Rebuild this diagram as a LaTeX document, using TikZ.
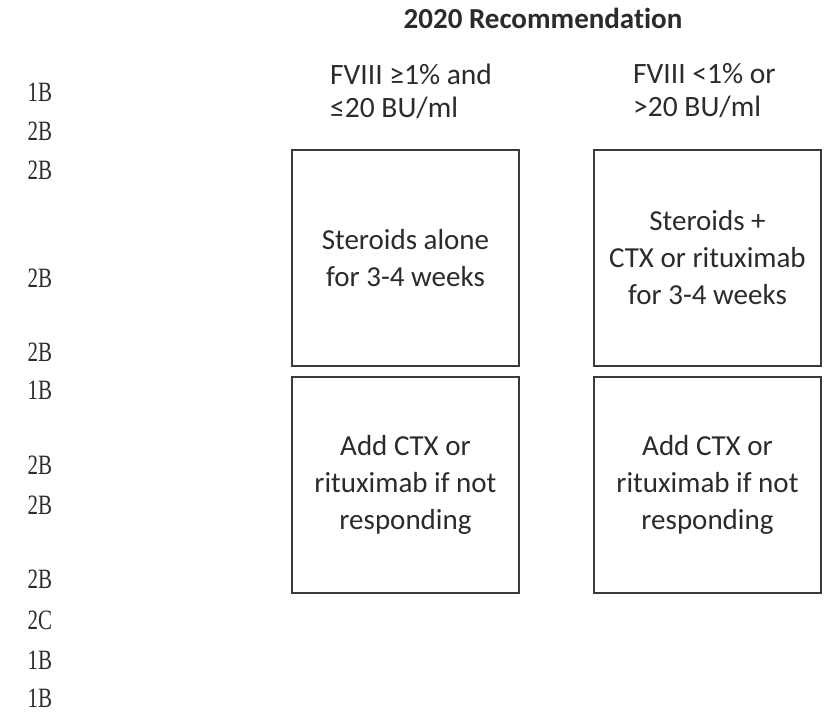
\documentclass[tikz,border=0pt]{standalone}
\usepackage{fontspec}
\setmainfont{Carlito}[Ligatures={NoCommon}]
\newfontfamily\gradefont[FakeStretch=0.75]{Liberation Serif}
\usetikzlibrary{positioning}
\definecolor{BoxGrey}{HTML}{3A3A3A}
\definecolor{InkGrey}{HTML}{2B2B2B}

\begin{document}
\begin{tikzpicture}[x=1pt,y=-1pt,node distance=9pt and 73pt,
    treatbox/.style={draw=BoxGrey,line width=2pt,minimum width=227pt,minimum height=216pt,
      inner sep=0pt,align=center,text=InkGrey,font=\fontsize{29}{37}\selectfont},
    grouphead/.style={anchor=west,inner sep=0pt,align=left,text=InkGrey,font=\fontsize{29.5}{33}\selectfont},
    grade/.style={inner sep=0pt,text=InkGrey,font=\gradefont\fontsize{28}{28}\selectfont}]
  \useasboundingbox (0,0) rectangle (825,718);

  % title and the two groups
  \node[text=InkGrey,font=\bfseries\fontsize{29}{29}\selectfont] (title) at (543,18) {2020 Recommendation};
  \node[grouphead] (lowhead) at (330,91) {FVIII ≥1\% and\\≤20 BU/ml};
  \node[grouphead] (highhead) at (633,91) {FVIII <1\% or\\>20 BU/ml};

  % boxes
  \node[treatbox] (low1) at (405.5,258) {Steroids alone\\for 3-4 weeks};
  \node[treatbox,right=of low1] (high1) {Steroids +\\CTX or rituximab\\for 3-4 weeks};
  \node[treatbox,below=of low1] (low2) {Add CTX or\\rituximab if not\\responding};
  \node[treatbox,below=of high1] (high2) {Add CTX or\\rituximab if not\\responding};

  % grades down the left side
  \foreach \gy/\gtxt [count=\gi] in {92/1B,131/2B,170/2B,278/2B,352/2B,390/1B,
      465/2B,505/2B,579/2B,620/2C,660/1B,698/1B}
    \node[grade] (g\gi) at (40,\gy) {\gtxt};
\end{tikzpicture}
\end{document}
